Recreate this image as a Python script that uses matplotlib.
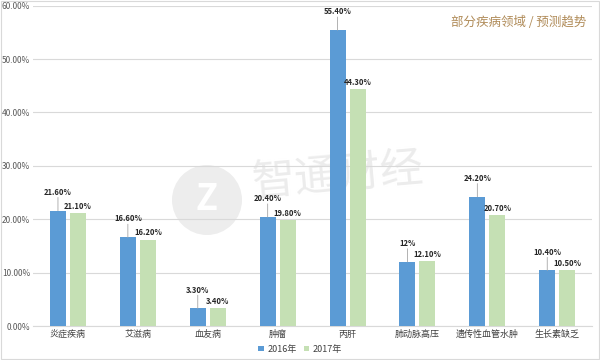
import matplotlib
matplotlib.use("Agg")
import matplotlib.pyplot as plt
from matplotlib.patches import Ellipse, Rectangle
import numpy as np

plt.rcParams['font.family'] = ['Noto Sans CJK SC', 'DejaVu Sans']

categories = ["炎症疾病", "艾滋病", "血友病", "肿瘤", "丙肝", "肺动脉高压", "遗传性血管水肿", "生长素缺乏"]
v2016 = [21.6, 16.6, 3.3, 20.4, 55.4, 12.0, 24.2, 10.4]
v2017 = [21.1, 16.2, 3.4, 19.8, 44.3, 12.1, 20.7, 10.5]
labels2016 = ["21.60%", "16.60%", "3.30%", "20.40%", "55.40%", "12%", "24.20%", "10.40%"]
labels2017 = ["21.10%", "16.20%", "3.40%", "19.80%", "44.30%", "12.10%", "20.70%", "10.50%"]
series = ["2016年", "2017年"]
yticks = [0, 10, 20, 30, 40, 50, 60]

blue = "#5B9BD5"
green = "#C5E0B4"

fig = plt.figure(figsize=(6, 3.6), dpi=100)
ax = fig.add_axes([0.055, 0.0944, 0.932, 0.890])

# watermark (behind)
circ = Ellipse((207 / 600, 1 - 200 / 360), 70 / 600, 70 / 360, transform=fig.transFigure,
               facecolor="#ededed", edgecolor="none", zorder=0)
fig.patches.append(circ)
fig.text(207 / 600, 1 - 200 / 360, "Z", fontsize=26, color="white", fontweight="bold",
         ha="center", va="center", style="italic", zorder=0.5)
fig.text(338 / 600, 1 - 176 / 360, "智通财经", fontsize=31, color="#ececec", fontweight="light",
         ha="center", va="center", rotation=5, zorder=0.5)
ax.set_zorder(1)
ax.patch.set_alpha(0)

x = np.arange(len(categories))
w = 0.229
off = 0.143
b1 = ax.bar(x - off, v2016, width=w, color=blue, label=series[0], zorder=3)
b2 = ax.bar(x + off, v2017, width=w, color=green, label=series[1], zorder=3)

ax.set_xlim(-0.5, len(categories) - 0.5)
ax.set_ylim(0, 60)
ax.set_yticks(yticks)
ax.set_yticklabels([f"{t:.2f}%" for t in yticks], fontsize=6, color="#595959")
ax.set_xticks(x)
ax.set_xticklabels(categories, fontsize=6.5, color="#404040")
ax.tick_params(axis='both', length=0, pad=3)
ax.tick_params(axis='y', pad=2)
ax.grid(axis='y', color="#d9d9d9", linewidth=0.8, zorder=0)
for s in ["top", "right", "left"]:
    ax.spines[s].set_visible(False)
ax.spines["bottom"].set_color("#d9d9d9")
ax.spines["bottom"].set_linewidth(0.8)
ax.set_axisbelow(True)

for xi, v, lab in zip(x, v2016, labels2016):
    ax.annotate("", xy=(xi - off, v), xytext=(0, 9.5), textcoords="offset points",
                arrowprops=dict(arrowstyle="-", color="#a6a6a6", lw=0.6, shrinkA=0, shrinkB=0), zorder=4)
    ax.annotate(lab, xy=(xi - off, v), xytext=(0, 10), textcoords="offset points",
                ha="center", va="bottom", fontsize=5.5, fontweight="bold", color="#262626", zorder=5)
for xi, v, lab in zip(x, v2017, labels2017):
    ax.annotate(lab, xy=(xi + off, v), xytext=(0, 1.5), textcoords="offset points",
                ha="center", va="bottom", fontsize=5.5, fontweight="bold", color="#262626", zorder=5)

fig.text(0.978, 1 - 22 / 360, "部分疾病领域 / 预测趋势", fontsize=9, color="#B08B58",
         ha="right", va="center")

leg = fig.legend(handles=[b1, b2], labels=series, loc="lower center", ncol=2, frameon=False,
                 bbox_to_anchor=(0.5, -0.005), fontsize=6.5, handlelength=0.6, handleheight=0.6,
                 handletextpad=0.4, columnspacing=0.8)
for t in leg.get_texts():
    t.set_color("#404040")

border = Rectangle((0.002, 0.002), 0.996, 0.996, transform=fig.transFigure, fill=False,
                   edgecolor="#d9d9d9", linewidth=0.8)
fig.patches.append(border)

fig.savefig("out.png", dpi=100)
